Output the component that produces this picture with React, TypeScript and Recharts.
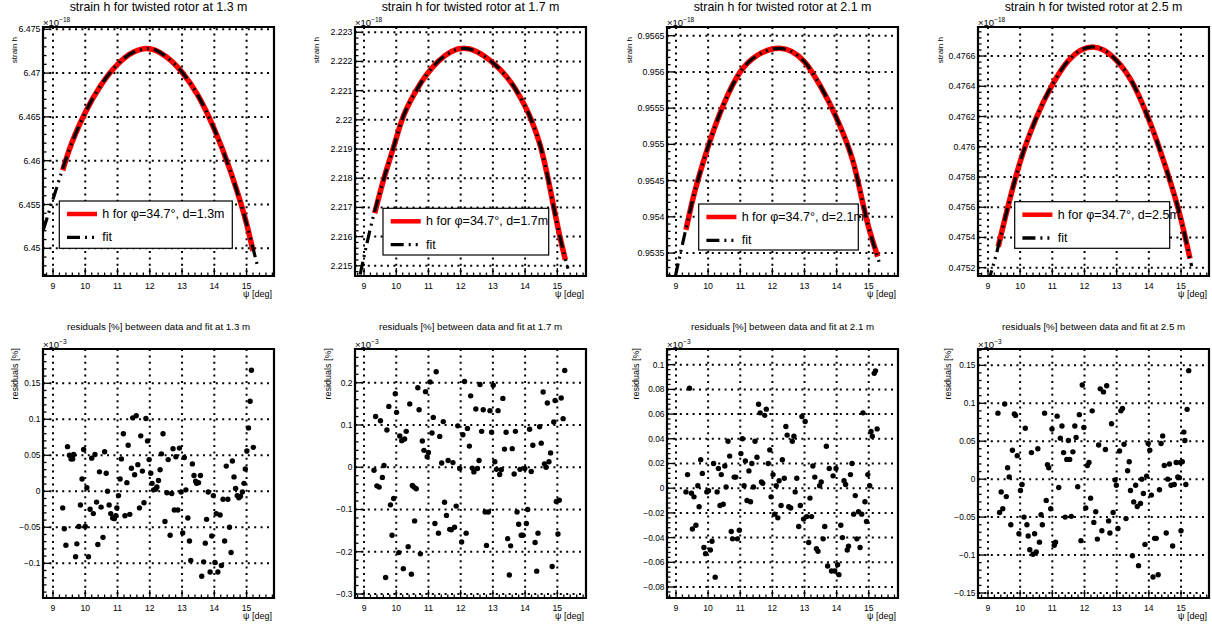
import React from 'react';
import { ComposedChart, Line, Scatter, XAxis, YAxis, CartesianGrid, ReferenceArea } from 'recharts';

const FONT = '"Liberation Sans", Arial, Helvetica, sans-serif';

const distances = ['1.3', '1.7', '2.1', '2.5'];
const psiMajor = [9, 10, 11, 12, 13, 14, 15];

// strain h (x1e-18) vs psi [deg], data and fit
const strain13 = [[9.3, 6.4589], [9.5, 6.4612], [10, 6.4655], [10.5, 6.4687], [11, 6.471], [11.5, 6.4724], [11.9, 6.4728], [12.5, 6.4719], [13, 6.4701], [13.5, 6.4674], [14, 6.4636], [14.5, 6.4588], [15, 6.4528], [15.2, 6.4497]];
const fit13 = [[8.7, 6.4521], [9, 6.4556], [9.5, 6.4612], [10, 6.4655], [10.5, 6.4687], [11, 6.471], [11.5, 6.4724], [12, 6.4728], [12.5, 6.4719], [13, 6.4701], [13.5, 6.4674], [14, 6.4636], [14.5, 6.4588], [15, 6.4528], [15.35, 6.4478]];

const strain17 = [[9.33, 2.2168], [9.62, 2.218], [9.9, 2.219], [10.18, 2.22], [10.62, 2.221], [11.3, 2.222], [12.1, 2.22245], [12.95, 2.222], [13.73, 2.221], [14.19, 2.22], [14.5, 2.219], [14.71, 2.218], [14.89, 2.217], [15.08, 2.216], [15.25, 2.2152]];
const fit17 = [[8.88, 2.2147], [9.18, 2.2162], [9.62, 2.218], [9.9, 2.219], [10.18, 2.22], [10.62, 2.221], [11.3, 2.222], [12.1, 2.22245], [12.95, 2.222], [13.73, 2.221], [14.19, 2.22], [14.5, 2.219], [14.71, 2.218], [14.89, 2.217], [15.08, 2.216], [15.33, 2.2149]];

const strain21 = [[9.31, 0.95382], [9.5, 0.9542], [10, 0.95497], [10.5, 0.95557], [11, 0.956], [11.5, 0.95622], [12.22, 0.956325], [13, 0.95614], [13.5, 0.9558], [14, 0.95536], [14.5, 0.95478], [15, 0.95385], [15.28, 0.95345]];
const fit21 = [[8.98, 0.95318], [9.2, 0.95362], [9.5, 0.9542], [10, 0.95497], [10.5, 0.95557], [11, 0.956], [11.5, 0.95622], [12.22, 0.956325], [13, 0.95614], [13.5, 0.9558], [14, 0.95536], [14.5, 0.95478], [15, 0.95385], [15.35, 0.95334]];

const strain25 = [[9.32, 0.47534], [9.5, 0.4755], [10, 0.4759], [10.5, 0.47619], [11, 0.47641], [11.5, 0.47657], [12.25, 0.47666], [13, 0.47657], [13.5, 0.47642], [14, 0.47618], [14.5, 0.47588], [15, 0.47552], [15.28, 0.47526]];
const fit25 = [[9, 0.4751], [9.26, 0.47529], [9.5, 0.4755], [10, 0.4759], [10.5, 0.47619], [11, 0.47641], [11.5, 0.47657], [12.25, 0.47666], [13, 0.47657], [13.5, 0.47642], [14, 0.47618], [14.5, 0.47588], [15, 0.47552], [15.33, 0.47521]];

// residuals [%] (x1e-3) between data and fit
const res13 = [[9.3, -0.023], [9.35, -0.052], [9.4, -0.075], [9.45, 0.062], [9.51, 0.05], [9.56, 0.045], [9.61, 0.045], [9.64, 0.051], [9.7, -0.091], [9.74, -0.073], [9.8, -0.049], [9.85, -0.019], [9.9, 0.017], [9.95, 0.058], [10, -0.049], [10.05, 0.005], [10.1, -0.091], [10.15, -0.025], [10.2, 0.046], [10.25, -0.031], [10.3, 0.051], [10.35, -0.015], [10.39, -0.074], [10.44, 0.027], [10.49, -0.022], [10.55, -0.064], [10.6, 0.055], [10.65, 0.025], [10.69, 0], [10.74, -0.019], [10.79, -0.031], [10.85, -0.037], [10.9, -0.038], [10.95, -0.034], [10.98, -0.023], [11.03, -0.006], [11.08, 0.017], [11.12, 0.045], [11.18, 0.08], [11.23, -0.034], [11.29, 0.012], [11.33, 0.064], [11.38, -0.032], [11.43, 0.032], [11.47, 0.102], [11.53, 0.023], [11.58, 0.105], [11.63, 0.037], [11.68, -0.023], [11.72, 0.077], [11.77, 0.028], [11.82, -0.016], [11.88, 0.101], [11.93, 0.07], [11.98, 0.044], [12.03, 0.025], [12.07, 0.011], [12.12, 0.002], [12.18, 0.003], [12.22, 0.006], [12.27, 0.015], [12.32, 0.03], [12.36, 0.052], [12.41, 0.08], [12.47, -0.042], [12.53, -0.002], [12.57, 0.044], [12.63, -0.061], [12.68, -0.003], [12.72, 0.059], [12.76, -0.026], [12.81, 0.048], [12.87, -0.026], [12.92, 0.06], [12.97, -0.001], [13.02, -0.058], [13.07, 0.047], [13.12, 0.002], [13.18, -0.037], [13.23, -0.069], [13.27, -0.096], [13.32, 0.038], [13.37, 0.022], [13.42, 0.014], [13.45, 0.011], [13.51, 0.012], [13.57, 0.022], [13.61, -0.118], [13.67, -0.098], [13.72, -0.072], [13.76, -0.039], [13.81, -0.001], [13.87, -0.112], [13.92, -0.062], [13.97, -0.006], [14.02, -0.099], [14.06, -0.031], [14.11, -0.112], [14.18, -0.033], [14.22, -0.103], [14.27, -0.011], [14.32, -0.069], [14.37, 0.035], [14.42, -0.011], [14.47, -0.05], [14.52, -0.085], [14.56, 0.042], [14.61, 0.02], [14.66, 0.004], [14.71, -0.006], [14.76, -0.009], [14.81, -0.007], [14.87, -0.001], [14.92, 0.011], [14.96, 0.031], [15.01, 0.056], [15.06, 0.088], [15.11, 0.125], [15.15, 0.168], [15.21, 0.061]];

const res17 = [[9.31, -0.007], [9.36, 0.12], [9.4, -0.044], [9.47, -0.047], [9.51, 0.11], [9.57, -0.024], [9.62, 0.004], [9.67, -0.261], [9.71, 0.088], [9.77, 0.144], [9.82, -0.089], [9.87, -0.161], [9.92, -0.074], [9.97, 0.174], [10.01, 0.13], [10.08, -0.202], [10.11, 0.074], [10.17, 0.063], [10.22, -0.24], [10.26, 0.067], [10.31, 0.085], [10.37, -0.188], [10.42, 0.15], [10.47, -0.253], [10.5, -0.043], [10.55, -0.047], [10.57, -0.127], [10.62, -0.051], [10.67, 0.188], [10.71, 0.136], [10.75, -0.205], [10.81, 0.062], [10.86, 0.04], [10.91, 0.179], [10.96, 0.025], [11, 0.035], [11.05, 0.202], [11.11, 0.081], [11.15, 0.118], [11.2, -0.133], [11.24, 0.226], [11.31, -0.156], [11.35, 0.073], [11.41, 0.01], [11.46, 0.108], [11.5, -0.083], [11.56, -0.114], [11.61, 0.016], [11.66, -0.147], [11.71, -0.148], [11.76, 0.011], [11.81, -0.142], [11.86, -0.092], [11.91, 0.098], [11.97, -0.003], [12.03, -0.177], [12.07, 0.077], [12.12, 0.203], [12.17, -0.156], [12.21, 0.092], [12.27, 0.05], [12.31, 0.169], [12.36, -0.002], [12.41, -0.011], [12.47, 0.138], [12.52, -0.003], [12.57, 0.016], [12.6, 0.196], [12.65, 0.085], [12.7, 0.136], [12.76, -0.106], [12.8, -0.185], [12.86, -0.106], [12.91, 0.134], [12.96, 0.083], [13.01, 0.194], [13.06, 0.013], [13.11, -0.005], [13.16, 0.134], [13.21, -0.017], [13.26, -0.006], [13.31, 0.163], [13.36, 0.043], [13.41, 0.083], [13.46, -0.169], [13.51, -0.255], [13.55, -0.186], [13.6, 0.044], [13.66, -0.016], [13.7, 0.085], [13.75, -0.106], [13.8, -0.135], [13.84, -0.005], [13.88, -0.161], [13.93, -0.161], [13.99, -0.003], [14.04, -0.133], [14.08, -0.1], [14.14, 0.09], [14.19, -0.01], [14.24, 0.052], [14.31, -0.178], [14.36, -0.246], [14.4, -0.156], [14.45, 0.096], [14.5, 0.057], [14.56, 0.178], [14.6, 0.008], [14.65, 0], [14.69, 0.152], [14.74, 0.013], [14.79, 0.034], [14.84, -0.235], [14.89, 0.107], [14.93, 0.158], [14.97, -0.081], [15.02, -0.158], [15.06, -0.078], [15.12, 0.164], [15.18, 0.115], [15.23, 0.229]];

const res21 = [[9.31, -0.003], [9.36, 0.011], [9.42, 0.081], [9.48, -0.004], [9.51, -0.033], [9.56, -0.007], [9.62, -0.03], [9.68, 0.002], [9.72, -0.015], [9.77, 0.023], [9.82, 0.012], [9.87, -0.048], [9.92, -0.053], [9.96, -0.003], [10.01, -0.002], [10.07, -0.05], [10.12, -0.043], [10.17, 0.02], [10.22, -0.072], [10.28, -0.003], [10.32, 0.016], [10.37, -0.014], [10.41, 0.011], [10.47, -0.013], [10.52, 0.018], [10.56, 0.001], [10.62, 0.038], [10.67, 0.026], [10.72, -0.035], [10.76, -0.041], [10.81, 0.009], [10.86, 0.009], [10.91, -0.041], [10.97, -0.034], [11.02, 0.028], [11.07, 0.04], [11.12, 0.002], [11.16, 0.022], [11.21, -0.01], [11.27, 0.014], [11.32, -0.011], [11.36, 0.02], [11.41, 0.001], [11.46, 0.038], [11.52, 0.025], [11.57, 0.068], [11.62, 0.061], [11.66, 0.005], [11.7, 0.004], [11.76, 0.059], [11.81, 0.064], [11.87, 0.02], [11.92, 0.031], [11.96, -0.007], [12.02, 0.011], [12.07, -0.021], [12.12, 0.002], [12.17, -0.024], [12.21, 0.006], [12.27, -0.014], [12.31, 0.023], [12.37, 0.008], [12.42, 0.05], [12.46, 0.043], [12.51, -0.015], [12.57, -0.016], [12.62, 0.038], [12.67, 0.042], [12.71, -0.003], [12.76, 0.008], [12.82, -0.031], [12.87, -0.014], [12.92, 0.058], [12.97, -0.025], [13.02, 0.054], [13.07, -0.023], [13.13, -0.044], [13.17, -0.008], [13.22, -0.023], [13.26, 0.018], [13.32, 0.009], [13.37, -0.049], [13.42, -0.051], [13.47, 0.002], [13.52, 0.005], [13.58, -0.041], [13.63, -0.031], [13.68, 0.034], [13.72, -0.063], [13.77, 0.016], [13.84, -0.067], [13.89, 0.01], [13.94, -0.067], [13.98, 0.016], [14.03, -0.062], [14.07, -0.07], [14.13, -0.03], [14.18, -0.04], [14.23, 0.006], [14.28, 0.003], [14.33, -0.05], [14.37, -0.047], [14.43, 0.011], [14.48, 0.02], [14.53, -0.021], [14.58, -0.006], [14.63, -0.041], [14.68, -0.019], [14.73, -0.048], [14.78, -0.021], [14.82, 0.061], [14.88, -0.011], [14.93, -0.027], [14.97, 0.011], [15.03, 0.002], [15.07, 0.046], [15.11, 0.042], [15.17, 0.093], [15.21, 0.095], [15.26, 0.048]];

const res25 = [[9.31, 0.087], [9.36, -0.044], [9.41, -0.017], [9.46, -0.039], [9.52, 0.099], [9.57, -0.023], [9.61, 0.015], [9.66, 0.003], [9.71, -0.06], [9.76, 0.038], [9.82, 0.086], [9.86, 0.084], [9.91, 0.031], [9.96, -0.072], [10.01, -0.015], [10.06, -0.007], [10.12, -0.05], [10.16, 0.067], [10.21, -0.06], [10.25, -0.075], [10.3, -0.093], [10.35, 0.035], [10.4, -0.099], [10.45, -0.072], [10.5, -0.096], [10.55, 0.04], [10.6, -0.083], [10.65, -0.047], [10.69, -0.06], [10.76, 0.087], [10.81, -0.028], [10.85, 0.019], [10.89, 0.015], [10.95, -0.039], [10.99, 0.066], [11.06, -0.087], [11.1, -0.083], [11.15, 0.083], [11.2, -0.011], [11.25, 0.054], [11.3, 0.07], [11.35, 0.035], [11.4, -0.05], [11.45, 0.026], [11.5, 0.051], [11.54, 0.026], [11.59, -0.049], [11.64, 0.036], [11.7, 0.07], [11.74, 0.055], [11.79, -0.01], [11.84, 0.085], [11.89, -0.081], [11.93, 0.124], [11.98, 0.068], [12.04, -0.038], [12.09, 0.018], [12.14, 0.022], [12.19, -0.025], [12.24, 0.09], [12.29, -0.057], [12.35, -0.043], [12.4, -0.079], [12.44, 0.045], [12.49, 0.119], [12.54, -0.068], [12.59, 0.115], [12.65, 0.039], [12.69, 0.123], [12.75, -0.055], [12.79, -0.071], [12.84, 0.073], [12.89, -0.044], [12.95, -0.001], [12.99, -0.008], [13.04, -0.065], [13.09, 0.037], [13.13, 0.09], [13.18, 0.093], [13.23, 0.046], [13.29, -0.052], [13.34, 0.011], [13.39, 0.023], [13.43, -0.015], [13.49, -0.101], [13.53, -0.03], [13.59, -0.008], [13.64, -0.036], [13.68, -0.114], [13.74, -0.032], [13.78, 0], [13.83, -0.019], [13.88, -0.086], [13.93, 0.004], [13.98, 0.047], [14.03, 0.038], [14.08, -0.021], [14.13, -0.129], [14.18, -0.078], [14.23, -0.078], [14.29, -0.126], [14.33, -0.014], [14.38, 0.047], [14.43, 0.057], [14.48, 0.018], [14.54, -0.071], [14.59, 0], [14.64, 0.02], [14.69, -0.008], [14.74, -0.088], [14.79, -0.007], [14.85, 0.022], [14.9, 0.003], [14.95, 0.002], [14.98, 0.022], [15, -0.068], [15.04, 0.023], [15.09, 0.062], [15.12, 0.051], [15.15, -0.007], [15.19, 0.092], [15.24, 0.143]];

const strainTicks = [
  [6.45, 6.455, 6.46, 6.465, 6.47, 6.475],
  [2.215, 2.216, 2.217, 2.218, 2.219, 2.22, 2.221, 2.222, 2.223],
  [0.9535, 0.954, 0.9545, 0.955, 0.9555, 0.956, 0.9565],
  [0.4752, 0.4754, 0.4756, 0.4758, 0.476, 0.4762, 0.4764, 0.4766],
];
const resTicks = [
  [-0.1, -0.05, 0, 0.05, 0.1, 0.15],
  [-0.3, -0.2, -0.1, 0, 0.1, 0.2],
  [-0.08, -0.06, -0.04, -0.02, 0, 0.02, 0.04, 0.06, 0.08, 0.1],
  [-0.15, -0.1, -0.05, 0, 0.05, 0.1, 0.15],
];

const strainData = [strain13, strain17, strain21, strain25];
const fitData = [fit13, fit17, fit21, fit25];
const resData = [res13, res17, res21, res25];

// axis ranges of each pad
const xDomains: [number, number][] = [[8.69, 15.85], [8.72, 15.89], [8.72, 15.91], [8.69, 15.87]];
const strainDomains: [number, number][] = [[6.44684, 6.47526], [2.21465, 2.22318], [0.953183, 0.95662], [0.475145, 0.476792]];
const resDomains: [number, number][] = [[-0.1482, 0.1976], [-0.3095, 0.2799], [-0.0889, 0.1127], [-0.1566, 0.1715]];

// pad geometry
const PLOT_LEFT = [43, 355, 667, 978];
const PLOT_W = 231;
const PLOT_H = 249;
const TOP_ROW = 27;
const BOTTOM_ROW = 349;
const YW = 50;
const MT = 6;
const MR = 6;
const XH = 28;

const legendBox = [[59.3, 201, 173, 47.3], [383, 208.3, 165.7, 46.7], [698.7, 204, 159.6, 46], [1014.7, 201.7, 155, 46.6]];
const strainTitleOffset = [26.5, 36, 34.7, 35.3];
const resTitleOffset = [25, 24, 27.8, 26.8];

const FIT_DASH = '13 5 2 5 2 5';
const GRID_DASH = '2 4.4';

function withMinor(major: number[], domain: [number, number]) {
  const step = (major[1] - major[0]) / 5;
  const out: number[] = [];
  for (let k = -12; k <= (major.length - 1) * 5 + 12; k++) {
    const v = +(major[0] + k * step).toPrecision(12);
    if (v >= domain[0] && v <= domain[1]) out.push(v);
  }
  return out;
}

const findMajor = (v: number, majors: number[]) => majors.find((m) => Math.abs(m - v) < 1e-9);
const fmt = (v: number) => String(v).replace('-', '\u2212');

const makeXTick = (majors: number[], fontSize: number) => (props: any) => {
  const { x, y, payload } = props;
  const m = findMajor(payload.value, majors);
  return (
    <g>
      <line x1={x} x2={x} y1={y} y2={y - (m !== undefined ? 8 : 3.5)} stroke="#000" strokeWidth={1.3} />
      {m !== undefined && (
        <text x={x} y={y + 9.5} textAnchor="middle" dominantBaseline="central" fontSize={fontSize} fontFamily={FONT} fill="#000">
          {fmt(m)}
        </text>
      )}
    </g>
  );
};

const makeYTick = (majors: number[], fontSize: number) => (props: any) => {
  const { x, y, payload } = props;
  const m = findMajor(payload.value, majors);
  return (
    <g>
      <line x1={x} x2={x + (m !== undefined ? 7 : 3.5)} y1={y} y2={y} stroke="#000" strokeWidth={1.3} />
      {m !== undefined && (
        <text x={x - 2.5} y={y} textAnchor="end" dominantBaseline="central" fontSize={fontSize} fontFamily={FONT} fill="#000">
          {fmt(m)}
        </text>
      )}
    </g>
  );
};

const Dot = (p: any) => <circle cx={p.cx} cy={p.cy} r={2.7} fill="#000" />;

function StrainPad({ i }: { i: number }) {
  const xd = xDomains[i];
  const yd = strainDomains[i];
  const yMaj = strainTicks[i];
  const red = strainData[i].map(([psi, h]) => ({ psi, h }));
  const fit = fitData[i].map(([psi, h]) => ({ psi, h }));
  return (
    <div style={{ position: 'absolute', left: PLOT_LEFT[i] - YW, top: TOP_ROW - MT }}>
      <ComposedChart width={YW + PLOT_W + MR} height={MT + PLOT_H + XH} margin={{ top: MT, right: MR, bottom: 0, left: 0 }}>
        <CartesianGrid stroke="#000" strokeWidth={2} strokeDasharray={GRID_DASH} horizontalValues={yMaj} verticalValues={psiMajor} />
        <XAxis type="number" dataKey="psi" domain={xd} allowDataOverflow ticks={withMinor(psiMajor, xd)} interval={0}
          tick={makeXTick(psiMajor, 8.8)} tickSize={0} tickMargin={0} tickLine={false} axisLine={false} height={XH} />
        <YAxis type="number" dataKey="h" domain={yd} allowDataOverflow ticks={withMinor(yMaj, yd)} interval={0}
          tick={makeYTick(yMaj, 8.8)} tickSize={0} tickMargin={0} tickLine={false} axisLine={false} width={YW} />
        <Line data={red} dataKey="h" type="monotone" stroke="#ff0000" strokeWidth={5.5} dot={false} activeDot={false} isAnimationActive={false} />
        <Line data={fit} dataKey="h" type="monotone" stroke="#000" strokeWidth={3.2} strokeDasharray={FIT_DASH} dot={false} activeDot={false} isAnimationActive={false} />
        <ReferenceArea x1={xd[0]} x2={xd[1]} y1={yd[0]} y2={yd[1]} fill="none" stroke="#000" strokeWidth={2.2} ifOverflow="visible" />
      </ComposedChart>
    </div>
  );
}

function ResidualPad({ i }: { i: number }) {
  const xd = xDomains[i];
  const yd = resDomains[i];
  const yMaj = resTicks[i];
  const pts = resData[i].map(([psi, r]) => ({ psi, r }));
  return (
    <div style={{ position: 'absolute', left: PLOT_LEFT[i] - YW, top: BOTTOM_ROW - MT }}>
      <ComposedChart width={YW + PLOT_W + MR} height={MT + PLOT_H + XH} margin={{ top: MT, right: MR, bottom: 0, left: 0 }}>
        <CartesianGrid stroke="#000" strokeWidth={2} strokeDasharray={GRID_DASH} horizontalValues={yMaj} verticalValues={psiMajor} />
        <XAxis type="number" dataKey="psi" domain={xd} allowDataOverflow ticks={withMinor(psiMajor, xd)} interval={0}
          tick={makeXTick(psiMajor, 8.6)} tickSize={0} tickMargin={0} tickLine={false} axisLine={false} height={XH} />
        <YAxis type="number" dataKey="r" domain={yd} allowDataOverflow ticks={withMinor(yMaj, yd)} interval={0}
          tick={makeYTick(yMaj, 8.4)} tickSize={0} tickMargin={0} tickLine={false} axisLine={false} width={YW} />
        <Scatter data={pts} fill="#000" shape={Dot} isAnimationActive={false} />
        <ReferenceArea x1={xd[0]} x2={xd[1]} y1={yd[0]} y2={yd[1]} fill="none" stroke="#000" strokeWidth={2.2} ifOverflow="visible" />
      </ComposedChart>
    </div>
  );
}

function Annotations() {
  return (
    <svg width={1212} height={626} style={{ position: 'absolute', left: 0, top: 0, pointerEvents: 'none' }} fontFamily={FONT}>
      {distances.map((d, i) => {
        const left = PLOT_LEFT[i];
        const cx = left + PLOT_W / 2;
        const [lx, ly, lw, lh] = legendBox[i];
        const sx = left - strainTitleOffset[i];
        const rx = left - resTitleOffset[i];
        return (
          <g key={d}>
            <text x={cx} y={10.5} textAnchor="middle" fontSize={12.4} fill="#000">{`strain h for twisted rotor at ${d} m`}</text>
            <text x={left} y={TOP_ROW - 1.5} fontSize={9.5} fill="#000">
              ×10<tspan fontSize={6.5} dy={-4}>−18</tspan>
            </text>
            <text x={sx} y={TOP_ROW + 10} fontSize={8} fill="#000" textAnchor="end" transform={`rotate(-90 ${sx} ${TOP_ROW + 10})`}>strain h</text>
            <text x={left + PLOT_W - 2} y={TOP_ROW + PLOT_H + 20.5} textAnchor="end" fontSize={9} fill="#000">ψ [deg]</text>
            <rect x={lx} y={ly} width={lw} height={lh} fill="#fff" stroke="#000" strokeWidth={1.2} />
            <line x1={lx + 7.7} x2={lx + 37.7} y1={ly + 13} y2={ly + 13} stroke="#ff0000" strokeWidth={4.5} />
            <text x={lx + 43} y={ly + 13} dominantBaseline="central" fontSize={12.5} fill="#000">{`h for φ=34.7°, d=${d}m`}</text>
            <line x1={lx + 7.7} x2={lx + 37.7} y1={ly + 36.3} y2={ly + 36.3} stroke="#000" strokeWidth={3.3} strokeDasharray={FIT_DASH} />
            <text x={lx + 43} y={ly + 36.3} dominantBaseline="central" fontSize={12.5} fill="#000">fit</text>

            <text x={cx} y={330.3} textAnchor="middle" fontSize={9.7} fill="#000">{`residuals [%] between data and fit at ${d} m`}</text>
            <text x={left} y={BOTTOM_ROW - 1} fontSize={9.5} fill="#000">
              ×10<tspan fontSize={6.5} dy={-4}>−3</tspan>
            </text>
            <text x={rx} y={BOTTOM_ROW - 1} fontSize={9} fill="#000" textAnchor="end" transform={`rotate(-90 ${rx} ${BOTTOM_ROW - 1})`}>residuals [%]</text>
            <text x={left + PLOT_W - 2} y={BOTTOM_ROW + PLOT_H + 20.5} textAnchor="end" fontSize={9} fill="#000">ψ [deg]</text>
          </g>
        );
      })}
    </svg>
  );
}

export default function App() {
  return (
    <div style={{ position: 'absolute', left: 0, top: 0, width: 1212, height: 626, background: '#fff', overflow: 'hidden', fontFamily: FONT }}>
      {distances.map((d, i) => <StrainPad key={`s${d}`} i={i} />)}
      {distances.map((d, i) => <ResidualPad key={`r${d}`} i={i} />)}
      <Annotations />
    </div>
  );
}
